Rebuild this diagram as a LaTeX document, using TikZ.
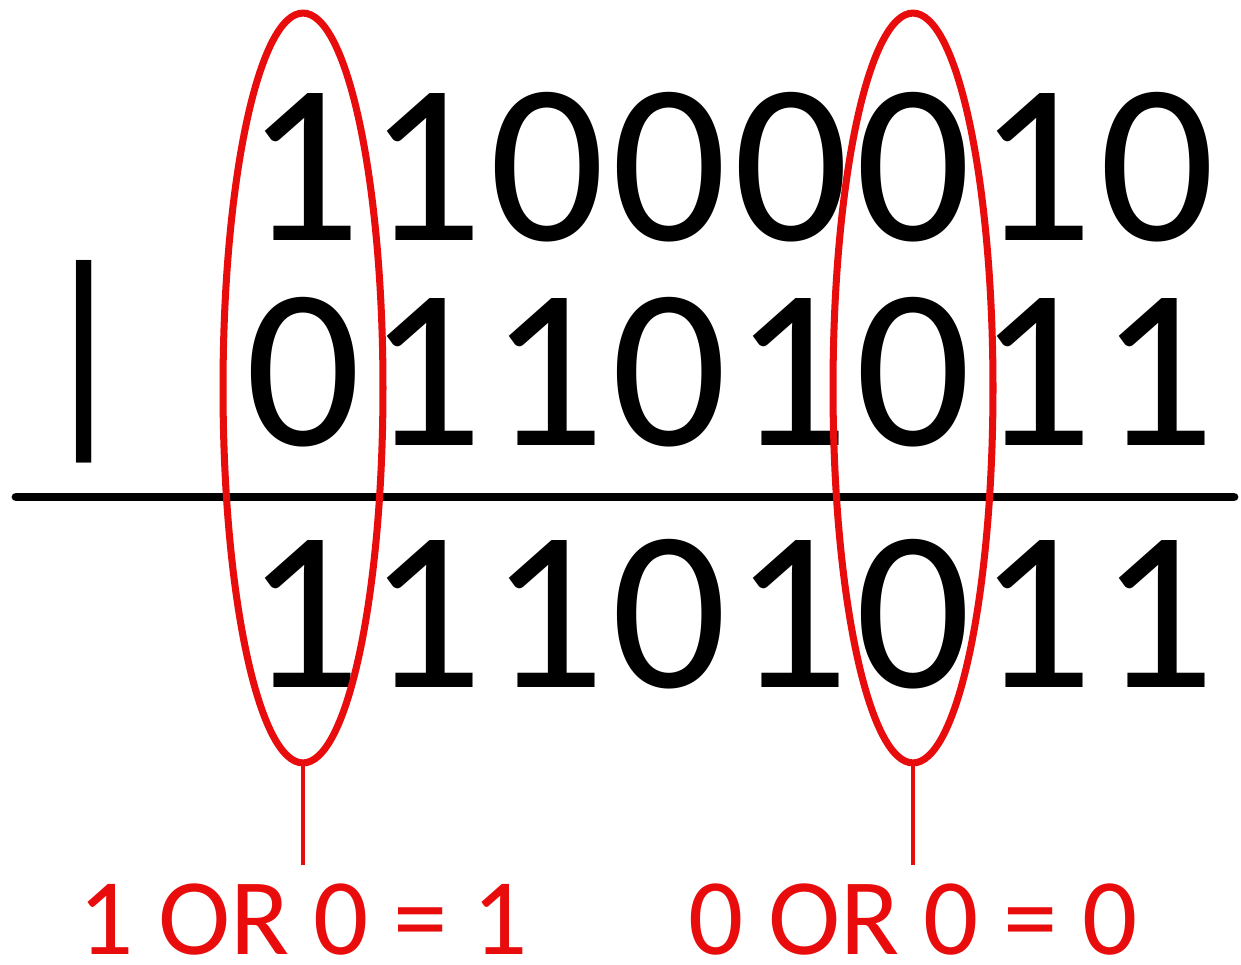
\documentclass[tikz,border=0pt]{standalone}
\usepackage{fontspec}
\setmainfont{Carlito}
\usepackage{xcolor}
\usetikzlibrary{shapes.geometric,positioning}
\definecolor{orred}{RGB}{232,12,12}

\begin{document}
\begin{tikzpicture}[
  x=0.02cm, y=-0.02cm,
  digit/.style={font=\fontsize{130}{130}\selectfont, inner sep=0pt, anchor=base},
  res/.style={font=\fontsize{62}{62}\selectfont, text=orred, inner sep=0pt,
    anchor=north},
  oval/.style={draw=orred, line width=4pt, ellipse, inner sep=0pt, outer sep=0pt,
    minimum width=3.2cm, minimum height=15cm},
  stem/.style={draw=orred, line width=2pt},
  rule/.style={line width=5pt, line cap=round},
]
\useasboundingbox (0,0) rectangle (1241,964);
\fill[white] (0,0) rectangle (1241,964);

% Operands and result
\foreach \d [count=\i] in {1,1,0,0,0,0,1,0}
  \node[digit] (a\i) at ({303+122*(\i-1)},240) {\d};
\foreach \d [count=\i] in {0,1,1,0,1,0,1,1}
  \node[digit] (b\i) at ({303+122*(\i-1)},445) {\d};
\foreach \d [count=\i] in {1,1,1,0,1,0,1,1}
  \node[digit] (c\i) at ({303+122*(\i-1)},687) {\d};
\node[digit] (op) at (84,425) {|};

% Sum line
\coordinate (rw) at (16,497);
\coordinate (re) at (1234,497);
\draw[rule] (rw) -- (re);

% Highlighted columns
\node[oval] (ov1) at (303,388) {};
\node[oval] (ov6) at (913,388) {};

% Results
\node[res] (res1) at (303,883) {1 OR 0 = 1};
\node[res] (res6) at (913,883) {0 OR 0 = 0};
\draw[stem] (ov1.south) -- ([yshift=10pt]res1.north);
\draw[stem] (ov6.south) -- ([yshift=10pt]res6.north);
\end{tikzpicture}
\end{document}
